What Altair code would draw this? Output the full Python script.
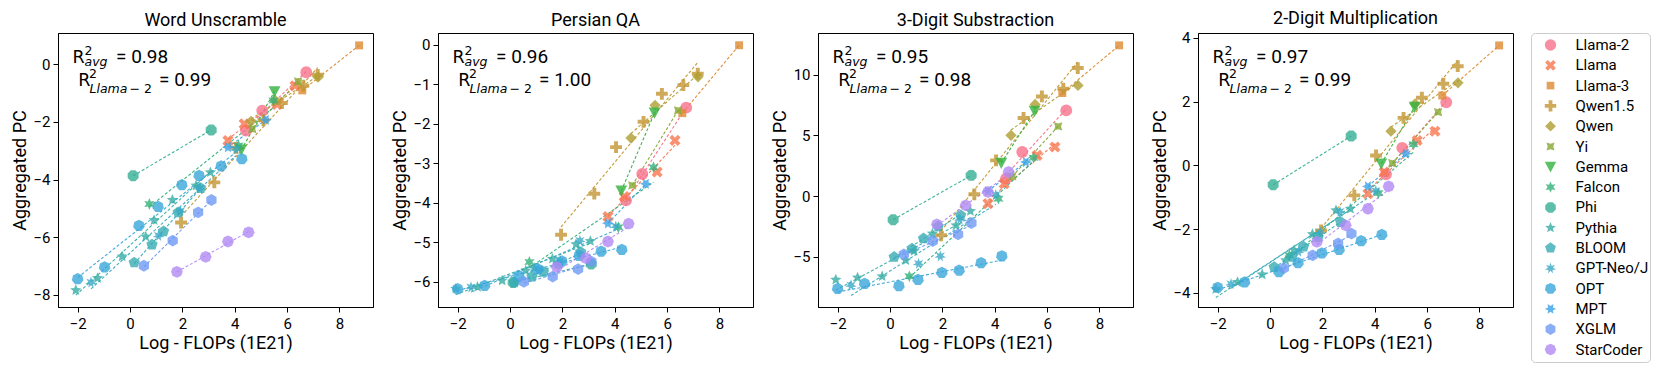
import math
import pandas as pd
import altair as alt

# ---------------- data ----------------
FAMILIES = ["Llama-2", "Llama", "Llama-3", "Qwen1.5", "Qwen", "Yi", "Gemma", "Falcon",
            "Phi", "Pythia", "BLOOM", "GPT-Neo/J", "OPT", "MPT", "XGLM", "StarCoder"]

COLORS = ["#f77189", "#f7754f", "#dd8a31", "#c39532", "#ae9d31", "#86a831", "#32b13e", "#33b07a",
          "#35ae93", "#36ada4", "#37abb4", "#38a9c5", "#3aa6da", "#3aa1e6", "#6e9af4", "#b08af4"]

# log-FLOPs (1E21) of each model, per family (shared by all panels)
LOG_FLOPS = {
    "Llama-2": [4.43, 5.05, 6.73],
    "Llama": [3.74, 4.36, 5.62, 6.30],
    "Llama-3": [6.58, 8.75],
    "Qwen1.5": [1.95, 3.22, 4.05, 5.10, 5.80, 6.62, 7.17],
    "Qwen": [4.62, 5.54, 7.18],
    "Yi": [4.67, 6.42],
    "Gemma": [4.25, 5.52],
    "Falcon": [0.74, 4.14, 5.48],
    "Phi": [0.12, 3.10],
    "Pythia": [-2.07, -1.24, -0.30, 0.60, 0.92, 1.62, 2.52, 3.07],
    "BLOOM": [0.16, 0.84, 1.28, 1.84, 2.70],
    "GPT-Neo/J": [-1.49, 1.09, 1.92, 2.67, 4.04],
    "OPT": [-2.00, -0.97, 0.34, 1.07, 1.98, 2.64, 3.48, 4.27],
    "MPT": [3.74, 5.19],
    "XGLM": [0.53, 1.63, 2.60, 3.11],
    "StarCoder": [1.79, 2.89, 3.74, 4.53],
}

PC_WORD_UNSCRAMBLE = {
    "Llama-2": [-2.30, -1.61, -0.28],
    "Llama": [-2.65, -2.07, -1.40, -0.75],
    "Llama-3": [-0.91, 0.65],
    "Qwen1.5": [-5.49, -4.10, -2.90, -1.95, -1.35, -0.75, -0.37],
    "Qwen": [-1.98, -1.25, -0.45],
    "Yi": [-2.25, -0.60],
    "Gemma": [-2.97, -0.95],
    "Falcon": [-4.85, -2.82, -1.26],
    "Phi": [-3.87, -2.28],
    "Pythia": [-7.84, -7.42, -6.67, -5.98, -5.41, -4.71, -4.21, -3.75],
    "BLOOM": [-6.88, -6.26, -5.80, -5.14, -4.30],
    "GPT-Neo/J": [-7.57, -5.95, -5.10, -4.30, -2.95],
    "OPT": [-7.45, -7.04, -5.60, -4.94, -4.19, -3.87, -3.54, -3.29],
    "MPT": [-2.88, -1.93],
    "XGLM": [-6.99, -6.12, -5.14, -4.71],
    "StarCoder": [-7.20, -6.68, -6.15, -5.83],
}

PC_PERSIAN_QA = {
    "Llama-2": [-3.94, -3.27, -1.59],
    "Llama": [-4.35, -3.84, -3.22, -2.42],
    "Llama-3": [-1.73, -0.01],
    "Qwen1.5": [-4.81, -3.77, -2.59, -1.95, -1.24, -1.02, -0.73],
    "Qwen": [-2.36, -1.53, -0.81],
    "Yi": [-3.56, -1.66],
    "Gemma": [-3.70, -1.72],
    "Falcon": [-5.50, -4.62, -3.10],
    "Phi": [-6.02, -5.55],
    "Pythia": [-6.18, -6.13, -5.97, -5.72, -5.65, -5.42, -5.05, -4.97],
    "BLOOM": [-6.02, -5.87, -5.75, -5.55, -5.25],
    "GPT-Neo/J": [-6.14, -5.68, -5.48, -4.96, -4.60],
    "OPT": [-6.18, -6.10, -5.85, -5.68, -5.48, -5.34, -5.23, -5.19],
    "MPT": [-4.52, -3.52],
    "XGLM": [-6.00, -5.87, -5.68, -5.49],
    "StarCoder": [-5.63, -5.40, -4.98, -4.53],
}

PC_3DIGIT_SUB = {
    "Llama-2": [1.43, 3.63, 7.06],
    "Llama": [-0.63, 1.02, 3.35, 4.04],
    "Llama-3": [8.49, 12.42],
    "Qwen1.5": [-3.24, 0.14, 2.94, 6.43, 8.21, 8.85, 10.55],
    "Qwen": [5.00, 7.55, 9.12],
    "Yi": [1.62, 5.74],
    "Gemma": [2.72, 7.00],
    "Falcon": [-6.62, -0.22, 3.16],
    "Phi": [-1.95, 1.70],
    "Pythia": [-6.90, -6.73, -6.62, -5.30, -4.53, -3.10, -2.42, -1.24],
    "BLOOM": [-5.03, -4.34, -3.50, -2.50, -1.59],
    "GPT-Neo/J": [-7.36, -5.58, -4.95, -1.90, 0.10],
    "OPT": [-7.64, -7.23, -7.42, -6.90, -6.32, -6.13, -5.52, -4.95],
    "MPT": [0.41, 2.80],
    "XGLM": [-4.81, -3.71, -3.16, -2.23],
    "StarCoder": [-2.34, -0.77, 0.33, 1.98],
}

PC_2DIGIT_MUL = {
    "Llama-2": [-0.28, 0.55, 1.98],
    "Llama": [-0.89, -0.21, 0.78, 1.07],
    "Llama-3": [2.19, 3.76],
    "Qwen1.5": [-2.04, -0.94, 0.31, 1.49, 2.12, 2.56, 3.11],
    "Qwen": [1.07, 1.93, 2.59],
    "Yi": [0.07, 1.67],
    "Gemma": [0.05, 1.83],
    "Falcon": [-2.82, -0.87, 0.66],
    "Phi": [-0.61, 0.92],
    "Pythia": [-3.88, -3.66, -3.42, -2.98, -2.66, -2.16, -1.41, -1.36],
    "BLOOM": [-3.19, -2.87, -2.55, -2.25, -1.78],
    "GPT-Neo/J": [-3.72, -2.70, -2.10, -1.45, -0.80],
    "OPT": [-3.83, -3.66, -3.34, -3.06, -2.75, -2.64, -2.37, -2.17],
    "MPT": [-0.66, 0.37],
    "XGLM": [-3.22, -2.82, -2.45, -2.14],
    "StarCoder": [-2.40, -1.88, -1.36, -0.66],
}

TITLES = ["Word Unscramble", "Persian QA", "3-Digit Substraction", "2-Digit Multiplication"]
R2_AVG = ["0.98", "0.96", "0.95", "0.97"]
R2_LLAMA2 = ["0.99", "1.00", "0.98", "0.99"]
Y_TICKS = [[-8, -6, -4, -2, 0], [-6, -5, -4, -3, -2, -1, 0], [-5, 0, 5, 10], [-4, -2, 0, 2, 4]]
Y_DOMAINS = [[-8.42, 1.08], [-6.64, 0.30], [-9.15, 13.44], [-4.44, 4.15]]
X_TICKS = [-2, 0, 2, 4, 6, 8]
X_DOMAIN = [-2.75, 9.28]


# ---------------- marker shapes (unit box -1..1) ----------------
def _fmt(pts):
    return "M" + "L".join(f"{x:.3f},{y:.3f}" for x, y in pts) + "Z"


def polygon(n, rot=0.0, r=1.0):
    pts = []
    for i in range(n):
        a = math.radians(rot + 360.0 * i / n)
        pts.append((r * math.sin(a), -r * math.cos(a)))
    return _fmt(pts)


def star(n, rot=0.0, inner=0.5):
    pts = []
    for i in range(2 * n):
        rr = 1.0 if i % 2 == 0 else inner
        a = math.radians(rot + 180.0 * i / n)
        pts.append((rr * math.sin(a), -rr * math.cos(a)))
    return _fmt(pts)


def plus(w=1 / 3, rot=0.0, scale=1.0):
    base = [(-w, -1), (w, -1), (w, -w), (1, -w), (1, w), (w, w), (w, 1), (-w, 1),
            (-w, w), (-1, w), (-1, -w), (-w, -w)]
    a = math.radians(rot)
    pts = [(scale * (x * math.cos(a) - y * math.sin(a)), scale * (x * math.sin(a) + y * math.cos(a)))
           for x, y in base]
    return _fmt(pts)


SHAPES = [
    "circle",                  # Llama-2
    plus(0.33, 45, 1.0),       # Llama (X)
    polygon(4, 45, 0.95),      # Llama-3 (square)
    plus(1 / 3),               # Qwen1.5 (P)
    polygon(4, 0, 0.95),       # Qwen (diamond)
    star(4, 45, 0.5),          # Yi
    "M-1,-0.9L1,-0.9L0,1Z",    # Gemma (triangle down)
    star(6, 0, 0.5),           # Falcon
    polygon(8, 22.5, 1.0),     # Phi
    star(5, 0, 0.45),          # Pythia
    polygon(5, 0, 1.0),        # BLOOM
    star(7, 0, 0.45),          # GPT-Neo/J
    polygon(7, 0, 1.0),        # OPT
    star(6, 30, 0.5),          # MPT
    polygon(6, 0, 1.0),        # XGLM
    polygon(8, 0, 1.0),        # StarCoder
]

MATH_FONT = "DejaVu Sans"
FONT = "Roboto"

CSCALE = alt.Scale(domain=FAMILIES, range=COLORS)
SSCALE = alt.Scale(domain=FAMILIES, range=SHAPES)


def make_df(values):
    rows = []
    for fam in FAMILIES:
        for xv, yv in zip(LOG_FLOPS[fam], values[fam]):
            rows.append({"family": fam, "x": xv, "y": yv})
    return pd.DataFrame(rows)


def txt(text, x, y, size, italic=False, font=MATH_FONT):
    return alt.Chart(pd.DataFrame({"k": [0]})).mark_text(
        text=text, align="left", baseline="alphabetic", font=font,
        fontSize=size, fontStyle="italic" if italic else "normal", color="black"
    ).encode(x=alt.value(x), y=alt.value(y))


def title_params(text):
    return alt.TitleParams(text, fontSize=18, font=FONT, fontWeight="normal",
                           anchor="middle", offset=3, color="black")


def panel(i, values):
    df = make_df(values)
    base = alt.Chart(df)
    xenc = alt.X("x:Q", scale=alt.Scale(domain=X_DOMAIN, nice=False, zero=False),
                 axis=alt.Axis(values=X_TICKS, title="Log - FLOPs (1E21)",
                               titleFontSize=18, labelFontSize=15, labelPadding=4,
                               titlePadding=3))
    yenc = alt.Y("y:Q", scale=alt.Scale(domain=Y_DOMAINS[i], nice=False, zero=False),
                 axis=alt.Axis(values=Y_TICKS[i], title="Aggregated PC",
                               titleFontSize=18, labelFontSize=15, labelPadding=3,
                               minExtent=24, maxExtent=24, titlePadding=5))
    lines = base.transform_regression("x", "y", groupby=["family"]).mark_line(
        strokeDash=[3, 2], strokeWidth=1.1, opacity=0.95, clip=True
    ).encode(x=xenc, y=yenc, stroke=alt.Stroke("family:N", scale=CSCALE, legend=None))
    pts = base.mark_point(filled=True, size=140, opacity=0.8, clip=True).encode(
        x=xenc, y=yenc,
        color=alt.Color("family:N", scale=CSCALE, legend=None),
        shape=alt.Shape("family:N", scale=SSCALE, legend=None),
    )
    texts = [
        txt("R", 14.5, 30.4, 17.5),
        txt("2", 26.5, 22, 12.5),
        txt("avg", 26.5, 33.4, 12.5, italic=True),
        txt("= " + R2_AVG[i], 58, 30.4, 19, font=FONT),
        txt("R", 20.2, 53, 17.5),
        txt("2", 31, 44.7, 12.5),
        txt("Llama", 31.5, 60.4, 12.5, italic=True),
        txt("\u2212 2", 71.5, 60.4, 12.5),
        txt("= " + R2_LLAMA2[i], 101, 53, 19, font=FONT),
    ]
    return alt.layer(lines, pts, *texts).properties(
        width=315, height=274, title=title_params(TITLES[i]),
    )


# ---------------- legend panel (drawn from the same colour / shape scales) ----------------
leg_base = alt.Chart(pd.DataFrame({"family": FAMILIES}))
leg_y = alt.Y("family:N",
              scale=alt.Scale(type="point", domain=FAMILIES, range=[12, 316.5], padding=0),
              axis=None)
leg_pts = leg_base.mark_point(filled=True, size=130, opacity=0.8).encode(
    x=alt.value(19.5), y=leg_y,
    color=alt.Color("family:N", scale=CSCALE, legend=None),
    shape=alt.Shape("family:N", scale=SSCALE, legend=None),
)
leg_txt = leg_base.mark_text(align="left", baseline="middle", font=FONT, fontSize=15,
                             color="black").encode(
    x=alt.value(44.5), y=leg_y, text="family:N",
)
legend_panel = alt.layer(leg_pts, leg_txt).properties(
    width=119, height=329, title=title_params(" "),
    view=alt.ViewBackground(stroke="#cccccc", strokeWidth=1, cornerRadius=4, fill="white"),
)

panels = [panel(0, PC_WORD_UNSCRAMBLE), panel(1, PC_PERSIAN_QA),
          panel(2, PC_3DIGIT_SUB), panel(3, PC_2DIGIT_MUL), legend_panel]

chart = alt.hconcat(*panels, spacing=16).resolve_scale(y="independent").properties(
    padding={"left": 2, "top": 1, "right": 0, "bottom": 0}
).configure_view(
    stroke="black", strokeWidth=1
).configure_axis(
    grid=False, domainColor="black", domainWidth=1, tickColor="black", tickSize=5,
    labelFont=FONT, labelColor="black",
    titleFont=FONT, titleFontWeight="normal", titleColor="black",
)

chart.save("out.html", embed_options={"renderer": "svg", "actions": False})
